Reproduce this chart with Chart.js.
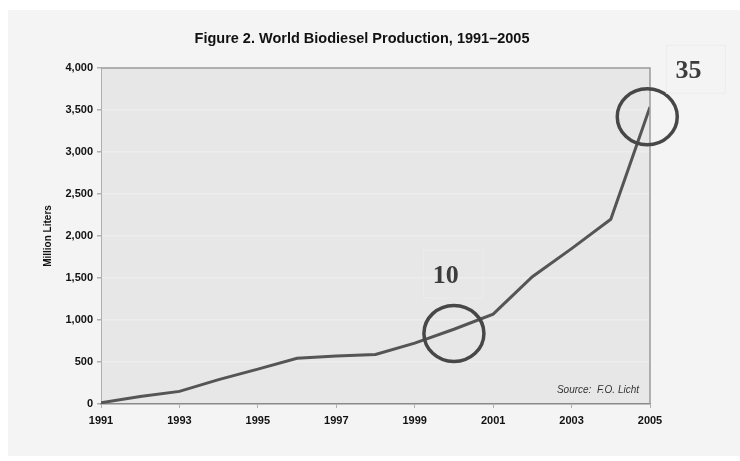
<!DOCTYPE html>
<html>
<head>
<meta charset="utf-8">
<script src="https://cdn.jsdelivr.net/npm/chart.js@4.4.1/dist/chart.umd.min.js"></script>
<style>
  html, body { margin: 0; padding: 0; background: #ffffff; }
  #wrap { position: relative; width: 740px; height: 461px; }
  #panel { position: absolute; left: 8px; top: 10px; width: 732px; height: 446px; background: #f4f4f4; }
  #wrap canvas { position: absolute; left: 0; top: 0; }
</style>
</head>
<body>
<div id="wrap">
  <div id="panel"></div>
  <canvas id="chart" width="740" height="461"></canvas>
</div>
<script>
// Produção mundial de biodiesel (milhões de litros)
const years = [1991, 1992, 1993, 1994, 1995, 1996, 1997, 1998, 1999, 2000, 2001, 2002, 2003, 2004, 2005];
const production = [15, 90, 150, 290, 415, 545, 572, 590, 725, 890, 1070, 1515, 1850, 2200, 3535];
const yTicks = [0, 500, 1000, 1500, 2000, 2500, 3000, 3500, 4000];
const xTicks = [1991, 1993, 1995, 1997, 1999, 2001, 2003, 2005];

// Marcações feitas à mão sobre o gráfico
const circleYears = [2000, 2004.93];
const circleValues = [840, 3420];
const noteLabels = ['10', '35'];
const noteYears = [1999.98, 2006.17];
const noteValues = [1550, 3985];

const FONT = '"Liberation Sans", Arial, sans-serif';

const plotBg = {
  id: 'plotBg',
  beforeDraw(chart) {
    const { ctx, chartArea: a } = chart;
    ctx.save();
    ctx.fillStyle = '#e7e7e7';
    ctx.fillRect(a.left, a.top, a.right - a.left, a.bottom - a.top);
    // título
    ctx.font = 'bold 14.5px ' + FONT;
    ctx.fillStyle = '#111111';
    ctx.textAlign = 'center';
    ctx.textBaseline = 'middle';
    ctx.fillText('Figure 2. World Biodiesel Production, 1991\u20132005', 362, 39);
    ctx.restore();
  },
  afterDatasetsDraw(chart) {
    const { ctx, chartArea: a } = chart;
    ctx.save();
    ctx.strokeStyle = '#9a9a9a';
    ctx.lineWidth = 1.5;
    ctx.beginPath();
    ctx.moveTo(a.left, a.top);
    ctx.lineTo(a.right, a.top);
    ctx.lineTo(a.right, a.bottom);
    ctx.stroke();
    ctx.restore();
  }
};

const handNotes = {
  id: 'handNotes',
  afterDraw(chart) {
    const { ctx } = chart;
    const x = chart.scales.x, y = chart.scales.y;
    ctx.save();
    ctx.strokeStyle = '#474747';
    ctx.lineWidth = 3.5;
    circleYears.forEach((yr, i) => {
      ctx.beginPath();
      ctx.ellipse(x.getPixelForValue(yr), y.getPixelForValue(circleValues[i]), 30, 28, 0, 0, Math.PI * 2);
      ctx.stroke();
    });
    ctx.font = 'bold 26px "Liberation Serif", serif';
    ctx.textAlign = 'center';
    ctx.textBaseline = 'middle';
    noteLabels.forEach((t, i) => {
      const cx = x.getPixelForValue(noteYears[i]);
      const cy = y.getPixelForValue(noteValues[i]);
      ctx.strokeStyle = '#ececec';
      ctx.lineWidth = 1;
      ctx.strokeRect(cx - 29.5, cy - 24, 59, 48);
      ctx.fillStyle = '#3c3c3c';
      ctx.fillText(t, cx - 7.5, cy + 2);
    });
    // fonte
    ctx.font = 'italic 10px ' + FONT;
    ctx.fillStyle = '#333333';
    ctx.textAlign = 'right';
    ctx.fillText('Source:  F.O. Licht', chart.chartArea.right - 11, chart.chartArea.bottom - 14);
    ctx.restore();
  }
};

const ctx = document.getElementById('chart').getContext('2d');
new Chart(ctx, {
  type: 'line',
  data: {
    datasets: [{
      label: 'World Biodiesel Production',
      data: years.map((yr, i) => ({ x: yr, y: production[i] })),
      borderColor: '#555555',
      borderWidth: 3,
      pointRadius: 0,
      tension: 0,
      fill: false
    }]
  },
  options: {
    responsive: false,
    animation: false,
    layout: { padding: { left: 42, right: 90, top: 68, bottom: 0 } },
    plugins: {
      legend: { display: false },
      tooltip: { enabled: false },
      title: { display: false }
    },
    scales: {
      x: {
        type: 'linear',
        min: 1991,
        max: 2005,
        afterBuildTicks: (s) => { s.ticks = xTicks.map(v => ({ value: v })); },
        afterFit: (s) => { s.height = 57; },
        ticks: {
          color: '#111111',
          font: { family: FONT, size: 11, weight: 'bold' },
          padding: 6,
          maxRotation: 0,
          callback: (v) => String(v)
        },
        grid: { drawOnChartArea: false, color: '#b0b0b0', tickLength: 4 },
        border: { color: '#8a8a8a', width: 1.5 }
      },
      y: {
        min: 0,
        max: 4000,
        afterBuildTicks: (s) => { s.ticks = yTicks.map(v => ({ value: v })); },
        afterFit: (s) => { s.width = 59; },
        ticks: {
          color: '#111111',
          font: { family: FONT, size: 11, weight: 'bold' },
          padding: 4,
          callback: (v) => v.toLocaleString('en-US')
        },
        title: {
          display: true,
          text: 'Million Liters',
          color: '#111111',
          font: { family: FONT, size: 10, weight: 'bold' },
          padding: { top: 0, bottom: 4 }
        },
        grid: { color: '#ededed', lineWidth: 1.5, tickLength: 4, tickColor: '#b0b0b0' },
        border: { color: '#b0b0b0', width: 1 }
      }
    }
  },
  plugins: [plotBg, handNotes]
});
</script>
</body>
</html>
